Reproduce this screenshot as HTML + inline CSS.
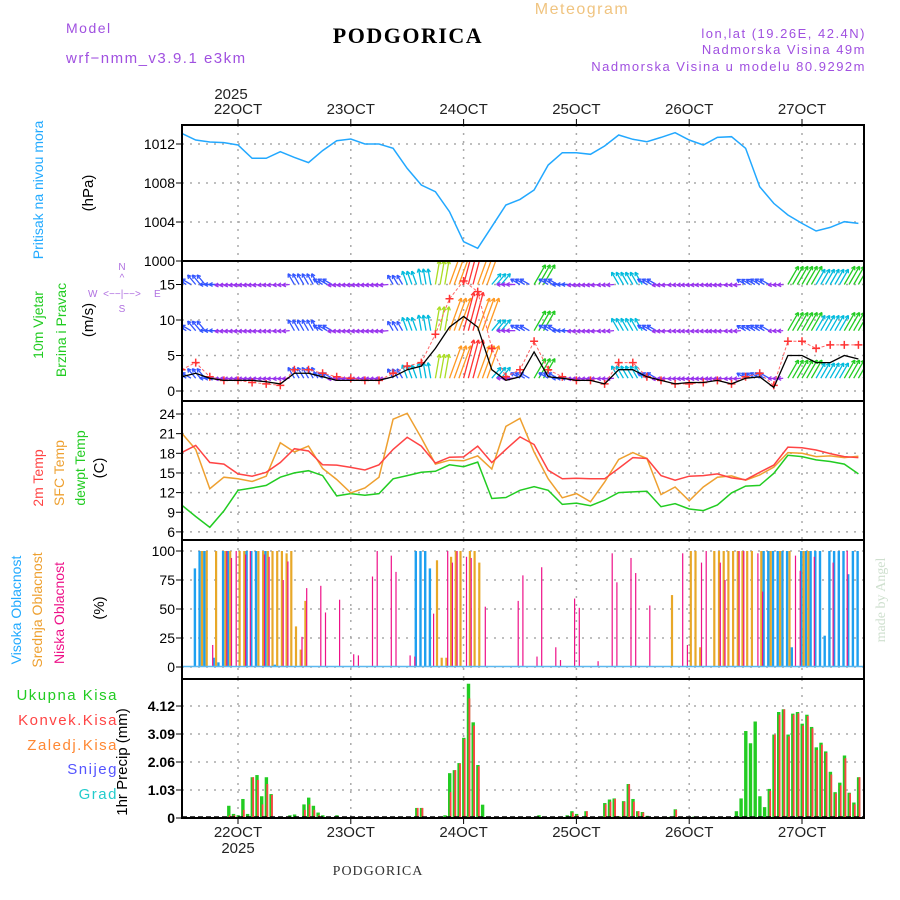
<!DOCTYPE html>
<html><head><meta charset="utf-8"><style>
body{margin:0;background:#fff;}
svg{display:block;font-family:"Liberation Sans",sans-serif;}
.wide{letter-spacing:1.5px;}
</style></head><body>
<svg id="c" width="900" height="900" viewBox="0 0 900 900">
<g>
<text x="66" y="33" font-size="14" fill="#a050e0" class="wide">Model</text>
<text x="66" y="63" font-size="15" fill="#a050e0" class="wide">wrf−nmm_v3.9.1  e3km</text>
<text x="408" y="43" font-size="22" font-weight="bold" font-family="Liberation Serif,serif" text-anchor="middle" letter-spacing="1.5">PODGORICA</text>
<text x="582" y="14" font-size="16" fill="#f0c480" text-anchor="middle" class="wide">Meteogram</text>
<text x="866" y="38" font-size="13" fill="#a050e0" text-anchor="end" class="wide">lon,lat (19.26E, 42.4N)</text>
<text x="866" y="54" font-size="13" fill="#a050e0" text-anchor="end" class="wide">Nadmorska Visina 49m</text>
<text x="866" y="71" font-size="13" fill="#a050e0" text-anchor="end" class="wide">Nadmorska Visina u modelu 80.9292m</text>
<text x="231" y="99" font-size="15" text-anchor="middle" fill="#222">2025</text>
<text x="378" y="875" font-size="14" font-family="Liberation Serif,serif" text-anchor="middle" fill="#333" letter-spacing="1">PODGORICA</text>
<text transform="translate(885,600) rotate(-90)" font-size="14" font-family="Liberation Serif,serif" text-anchor="middle" fill="#cfe0cf">made by Angel</text>
</g>
<g>
<text transform="translate(43,190) rotate(-90)" font-size="14" fill="#22aaff" text-anchor="middle">Pritisak na nivou mora</text>
<text transform="translate(93,193) rotate(-90)" font-size="15" text-anchor="middle">(hPa)</text>
<text transform="translate(43,325) rotate(-90)" font-size="14" fill="#22cc22" text-anchor="middle">10m Vjetar</text>
<text transform="translate(66,330) rotate(-90)" font-size="14" fill="#22cc22" text-anchor="middle">Brzina i Pravac</text>
<text transform="translate(93,320) rotate(-90)" font-size="15" text-anchor="middle">(m/s)</text>
<g fill="#b070e0" font-size="10">
<text x="122" y="270" text-anchor="middle">N</text><text x="122" y="281" text-anchor="middle">^</text>
<text x="88" y="297">W</text><text x="154" y="297">E</text>
<text x="122" y="297" text-anchor="middle">&lt;−−|−−&gt;</text>
<text x="122" y="312" text-anchor="middle">S</text>
</g>
<text transform="translate(43,478) rotate(-90)" font-size="14" fill="#ff4444" text-anchor="middle">2m Temp</text>
<text transform="translate(64,473) rotate(-90)" font-size="14" fill="#eea030" text-anchor="middle">SFC Temp</text>
<text transform="translate(85,468) rotate(-90)" font-size="14" fill="#22cc22" text-anchor="middle">dewpt Temp</text>
<text transform="translate(104,468) rotate(-90)" font-size="15" text-anchor="middle">(C)</text>
<text transform="translate(21,610) rotate(-90)" font-size="14" fill="#22aaff" text-anchor="middle">Visoka Oblacnost</text>
<text transform="translate(42,610) rotate(-90)" font-size="14" fill="#eea030" text-anchor="middle">Srednja Oblacnost</text>
<text transform="translate(64,613) rotate(-90)" font-size="14" fill="#ee1188" text-anchor="middle">Niska Oblacnost</text>
<text transform="translate(104,608) rotate(-90)" font-size="15" text-anchor="middle">(%)</text>
<text x="118" y="700" font-size="15" fill="#22cc22" text-anchor="end" class="wide">Ukupna Kisa</text>
<text x="118" y="725" font-size="15" fill="#ff4444" text-anchor="end" class="wide">Konvek.Kisa</text>
<text x="118" y="750" font-size="15" fill="#ff8833" text-anchor="end" class="wide">Zaledj.Kisa</text>
<text x="118" y="774" font-size="15" fill="#5555ff" text-anchor="end" class="wide">Snijeg</text>
<text x="118" y="799" font-size="15" fill="#22cccc" text-anchor="end" class="wide">Grad</text>
<text transform="translate(127,762) rotate(-90)" font-size="15" text-anchor="middle">1hr Precip (mm)</text>
</g>
<g id="grid"></g>
<g id="marks"></g>
<g id="frame"></g>
</svg>
<script>
// ---- data (time: hours since 21 OCT 12:00) ----
const dayLabels = ["22OCT","23OCT","24OCT","25OCT","26OCT","27OCT"];
const dayHours = [12,36,60,84,108,132];
const pressure = [1013.10,1012.41,1012.21,1012.14,1011.90,1010.53,1010.53,1011.21,1010.63,1010.09,1011.32,1012.34,1012.51,1012.0,1012.0,1011.56,1009.50,1007.79,1007.11,1005.06,1001.98,1001.30,1003.52,1005.74,1006.32,1007.28,1009.85,1011.11,1011.11,1010.94,1011.79,1012.92,1012.48,1012.24,1012.68,1013.16,1012.41,1011.90,1012.68,1012.75,1011.56,1007.62,1005.91,1004.72,1003.86,1003.08,1003.45,1004.03,1003.86];
const temp2m = [18.1,19.2,16.6,16.35,14.85,14.5,15.1,16.6,18.7,18.35,16.25,16.2,15.85,15.45,16.25,18.6,20.45,19.1,16.5,17.4,17.45,19.1,16.6,18.6,20.5,19.35,15.4,14.1,14.2,14.1,14.1,15.7,17.35,17.2,14.6,13.9,14.5,14.6,14.85,14.25,13.95,15.1,16.2,18.95,18.85,18.5,17.95,17.5,17.35];
const tempSfc = [21.1,18.6,12.6,14.35,14.1,13.7,14.5,19.6,18.2,19.1,15.7,14.0,11.95,12.7,14.35,23.2,24.1,20.35,16.35,16.95,16.85,17.6,15.6,22.1,23.35,18.2,14.1,11.2,11.85,10.6,13.6,17.05,18.1,17.2,11.7,12.85,10.75,12.85,14.35,14.55,13.9,14.7,15.9,18.1,18.0,17.5,17.6,17.35,17.55];
const dewpoint = [10.1,8.35,6.7,9.2,12.35,12.7,13.1,14.35,15.0,15.35,14.6,11.5,11.85,11.6,11.85,14.1,14.6,15.1,15.25,16.25,15.95,16.65,11.1,11.25,12.35,12.9,12.35,10.2,10.4,10.0,10.85,12.0,12.1,12.2,9.85,10.3,9.5,9.25,10.1,11.95,13.0,13.1,14.95,17.7,17.5,17.0,16.75,16.35,14.85];
const windSpeed = [2,2.5,1.8,1.5,1.5,1.5,1.3,1.0,2.5,2.5,2,1.5,1.5,1.5,1.5,2,3,3.5,6,9,10.5,9,3,1.5,2,5.5,2,1.8,1.5,1.5,1,3,3,2,1.5,1,1.2,1.2,1.5,1,1.8,2,0.5,5,5,4,4,5,4.5];
const windGust = [3,4,2,1.5,1.5,1.2,1,0.8,3,3,2.5,2,1.8,1.5,1.5,2.5,3.5,4,8,13,15.5,14,6,2,3,7,3,2,1.5,1.5,1,4,4,2,1.5,1,1,1.2,1.5,1,2,2.5,0.8,7,7,6,6.5,6.5,6.5];
const windDir = [300,320,270,265,265,265,265,265,330,330,300,265,265,265,265,330,340,350,10,20,15,20,40,270,300,30,300,270,265,265,265,330,330,300,265,265,265,265,265,265,300,300,265,30,30,30,30,30,30];
const cloudHighHours = [3,4,5,7,8,9,10,14,15,16,18,20,50,51,52,53,124,125,126,127,128,129,130,132,133,134,135,136,137,138,139,140,141,142,143,144];
const cloudHighVals  = [85,100,100,8,4,100,100,100,100,100,100,2,100,100,100,85,100,100,100,100,100,100,17,100,100,100,100,100,27,100,100,100,100,80,100,100];
const cloudMidHours = [4,5,7,9,10,12,13,16,17,18,19,20,21,22,23,24,25,26,54,55,56,57,58,59,61,62,63,104,108,109,110,113,114,115,116,117,118,119,120,121,123,125,127,129,132,133];
const cloudMidVals  = [100,100,100,100,100,100,100,100,100,100,100,100,100,98,100,35,15,57,92,8,8,95,100,100,100,100,90,62,100,100,17,100,100,100,100,100,100,100,100,100,100,100,100,100,100,100];
const cloudLowHours = [6,9,10,11,13,14,17,18,21,22,25,26,29,30,33,36,37,40,41,44,45,48,49,53,56,57,58,60,61,64,71,72,75,76,79,80,83,84,88,91,92,95,96,99,106,107,110,111,114,115,118,119,122,123,130,131,134,138,141];
const cloudLowVals  = [19,100,94,100,97,100,97,95,75,91,26,68,70,47,58,11,10,78,100,96,82,10,9,46,100,90,100,95,94,52,57,79,9,86,17,6,59,51,5,98,73,94,81,53,98,19,90,100,90,75,100,100,98,65,96,83,95,90,100];
const precipHours = [10,11,12,13,14,15,16,17,18,19,20,23,24,26,27,28,29,30,33,50,51,56,57,58,59,60,61,62,63,64,76,82,83,84,86,87,90,91,92,93,94,95,96,97,98,99,104,105,109,118,119,120,121,122,123,124,125,126,127,128,129,130,131,132,133,134,135,136,137,138,139,140,141,142,143,144];
const precipTotal = [0.45,0.15,0.1,0.7,0.15,1.5,1.58,0.8,1.5,0.88,0.02,0.1,0.13,0.5,0.75,0.45,0.2,0.1,0.1,0.37,0.37,0.1,1.65,1.76,2.02,2.95,4.94,3.52,1.95,0.49,0.1,0.1,0.25,0.15,0.25,0.02,0.55,0.68,0.72,0.07,0.62,1.25,0.7,0.25,0.22,0.08,0.05,0.32,0.05,0.25,0.72,3.2,2.75,3.55,0.8,0.4,1.07,3.07,3.9,4.0,3.07,3.84,3.9,3.47,3.8,3.35,2.6,2.77,2.45,1.7,0.95,1.3,2.3,0.93,0.57,1.5];
const precipConv  = [0.1,0.1,0,0.3,0,1.5,1.4,0.5,1.25,0.85,0,0,0,0.3,0.5,0.3,0.1,0,0,0.37,0.37,0,0.95,1.76,2.0,2.9,4.4,3.4,1.9,0,0,0,0.2,0.1,0.25,0,0.5,0.6,0.7,0.05,0.6,1.24,0.6,0.25,0.2,0.05,0,0.3,0.05,0,0,0,0,0,0,0,1.0,3.07,3.8,4.0,3.0,3.8,3.85,3.4,3.75,3.3,2.5,2.7,2.4,1.6,0.9,1.2,2.2,0.9,0.5,1.5];
const presTicks = [1000,1004,1008,1012];
const windTicks = [0,5,10,15];
const tempTicks = [6,9,12,15,18,21,24];
const cloudTicks = [0,25,50,75,100];
const precipTicks = [0,1.03,2.06,3.09,4.12];
const precipTickLabels = ["0","1.03","2.06","3.09","4.12"];

// ---- axes ----
const X0=182, X1=864;
const xT = t => 181.6 + 4.7*t;
const yP = p => 261 - (p-1000)*9.75;
const yW = v => 391 - v*7.1;
const yT = c => 414 + (24-c)*6.55;
const yC = c => 667 - c*1.16;
const yR = r => 818 - r*27.18;
const NS="http://www.w3.org/2000/svg";
function mk(tag, attrs, parent){const e=document.createElementNS(NS,tag);for(const k in attrs)e.setAttribute(k,attrs[k]);parent.appendChild(e);return e;}
const grid=document.getElementById('grid'), marks=document.getElementById('marks'), frame=document.getElementById('frame'), svg=document.getElementById('c');
const panels=[[125,261],[261,401],[401,540],[540,679],[679,818]];
const dot={stroke:"#aaa","stroke-width":1.5,"stroke-dasharray":"2,6"};
dayHours.forEach((h,i)=>{
  panels.forEach(p=>{const l=mk('line',Object.assign({x1:xT(h),x2:xT(h),y1:p[0],y2:p[1]},dot),grid);
  
  });
  const tt=mk('text',{x:xT(h),y:114,"font-size":15,"text-anchor":"middle",fill:"#222"},svg);tt.textContent=dayLabels[i];
  
  
  const tb=mk('text',{x:xT(h),y:837,"font-size":15,"text-anchor":"middle",fill:"#222"},svg);tb.textContent=dayLabels[i];
  
  
  mk('line',{x1:xT(h),x2:xT(h),y1:119,y2:125,stroke:"#000"},frame);
  mk('line',{x1:xT(h),x2:xT(h),y1:818,y2:824,stroke:"#000"},frame);
});
const yb=mk('text',{x:xT(12),y:853,"font-size":15,"text-anchor":"middle",fill:"#222"},svg);yb.textContent="2025";


function yticks(vals,labels,f,bold,name){vals.forEach((v,i)=>{
  const y=f(v);
  const g=mk('line',Object.assign({x1:X0,x2:X1,y1:y,y2:y},dot),grid);
  
  
  mk('line',{x1:X0-6,x2:X0,y1:y,y2:y,stroke:"#000"},frame);
  const t=mk('text',{x:175,y:y+5,"font-size":14,"text-anchor":"end","font-weight":bold?"bold":"normal"},svg);t.textContent=labels[i];
  
  
});}
yticks(presTicks,presTicks.map(String),yP,false,'pressure');
yticks(windTicks,windTicks.map(String),yW,false,'wind');
yticks(tempTicks,tempTicks.map(String),yT,false,'temp');
yticks(cloudTicks,cloudTicks.map(String),yC,false,'cloud');
yticks(precipTicks,precipTickLabels,yR,true,'precip');

function line(arr,f,color,name,w){
  const pts=arr.map((v,i)=>xT(i*3).toFixed(1)+","+f(v).toFixed(1)).join(" ");
  const e=mk('polyline',{points:pts,fill:"none",stroke:color,"stroke-width":w||1.5},marks);
  
  
}
const defs=mk('defs',{},svg);
panels.forEach((p,i)=>{const cp=mk('clipPath',{id:'cp'+i},defs);mk('rect',{x:X0,y:p[0],width:X1-X0,height:p[1]-p[0]},cp);});
line(pressure,yP,"#22a8ff","pressure-line");
const cg=mk('g',{"clip-path":"url(#cp3)"},marks);
function bars(hours,vals,f,color,dx,w,name,g){hours.forEach((h,i)=>{
  const y=f(vals[i]);
  const r=mk('rect',{x:xT(h)+dx,y:y,width:w,height:Math.max(0,f(0)-y),fill:color},g);
  
  
});}
bars(cloudHighHours,cloudHighVals,yC,"#1ea0f0",-2,2.4,'high-cloud-bar',cg);
bars(cloudMidHours,cloudMidVals,yC,"#e8a828",0.5,2.2,'mid-cloud-bar',cg);
bars(cloudLowHours,cloudLowVals,yC,"#ee1188",2.3,1.2,'low-cloud-bar',cg);
mk('line',{x1:X0,x2:X1,y1:666.5,y2:666.5,stroke:"#5bb8f0","stroke-width":1.5},cg);
const tg=mk('g',{"clip-path":"url(#cp2)"},marks);
line(dewpoint,yT,"#22cc22","dewpoint-line");
line(tempSfc,yT,"#eea030","sfc-temp-line");
line(temp2m,yT,"#ff4444","temp2m-line");
const pg=mk('g',{"clip-path":"url(#cp4)"},marks);
bars(precipHours,precipTotal,yR,"#22cc22",-1.5,3.4,'total-rain-bar',pg);
bars(precipHours,precipConv,yR,"#ff4444",0.2,1.8,'convective-rain-bar',pg);
mk('line',{x1:X0,x2:X1,y1:817,y2:817,stroke:"#000","stroke-width":1.5,"stroke-dasharray":"5,3"},pg);
const wg=mk('g',{"clip-path":"url(#cp1)"},marks);
function wcol(s){return s<1.8?"#9933ee":s<2.6?"#3355ff":s<4.2?"#00bbdd":s<6?"#22cc22":s<8?"#aadd22":s<10?"#ff9922":"#ff3333";}
const rows=[yW(15),yW(8.5),yW(1.8)];
for(let h=0;h<=145;h++){
  const i=Math.min(48,Math.floor(h/3));
  const s=windSpeed[i], d=windDir[i]*Math.PI/180, L=3.4*s+4;
  rows.forEach(y0=>{
    const x0=xT(h), x1=x0+L*Math.sin(d), y1=y0-L*Math.cos(d);
    const g=mk('g',{stroke:wcol(s),"stroke-width":1.3,fill:"none"},wg);
    
    
    mk('line',{x1:x0,y1:y0,x2:x1,y2:y1},g);
    const a=4;
    [d+Math.PI-0.5,d+Math.PI+0.5].forEach(b=>mk('line',{x1:x1,y1:y1,x2:x1+a*Math.sin(b),y2:y1-a*Math.cos(b)},g));
  });
}
const wl=mk('g',{"clip-path":"url(#cp1)"},marks);
const gl=mk('polyline',{points:windGust.map((v,i)=>xT(i*3)+","+yW(v)).join(" "),fill:"none",stroke:"#ff6666","stroke-width":1,"stroke-dasharray":"3,2"},wl);


windGust.forEach((v,i)=>{const x=xT(i*3),y=yW(v);
  const p=mk('path',{d:`M${x-4},${y}H${x+4}M${x},${y-4}V${y+4}`,stroke:"#ff3333","stroke-width":1.5},wl);
  
  });
const sl=mk('polyline',{points:windSpeed.map((v,i)=>xT(i*3)+","+yW(v)).join(" "),fill:"none",stroke:"#000","stroke-width":1.3},wl);


panels.forEach(p=>{const r=mk('rect',{x:X0,y:p[0],width:X1-X0,height:p[1]-p[0],fill:"none",stroke:"#000","stroke-width":2},frame);
  
  });
</script>
</body></html>
